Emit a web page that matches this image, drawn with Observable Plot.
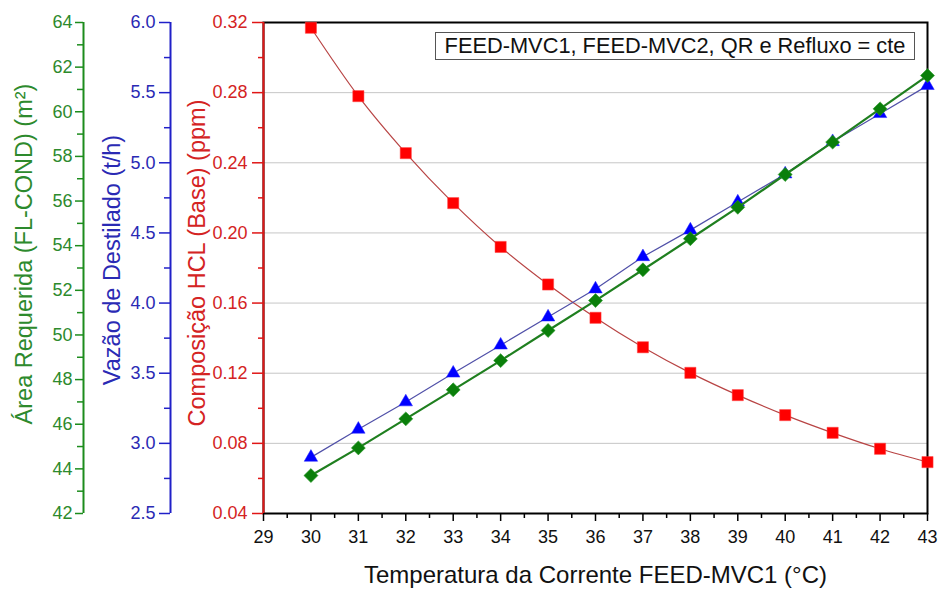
<!DOCTYPE html>
<html>
<head>
<meta charset="utf-8">
<script src="https://cdn.jsdelivr.net/npm/d3@7"></script>
<script src="https://cdn.jsdelivr.net/npm/@observablehq/plot@0.6"></script>
<style>
  body { margin: 0; background: #fff; }
  #chart { position: relative; width: 941px; height: 590px; font-family: "Liberation Sans", Arial, sans-serif; background: #fff; overflow: hidden; }
  #chart svg { position: absolute; left: 0; top: 0; overflow: visible; }
  #legend { position: absolute; left: 435px; top: 32px; width: 478px; height: 26px; border: 1px solid #555;
            font: 21.8px "Liberation Sans", Arial, sans-serif; color: #111; text-align: center; line-height: 26px; background: #fff; white-space: nowrap; }
</style>
</head>
<body>
<div id="chart"></div>
<script>
// ---- data ----
const temperatures   = [30, 31, 32, 33, 34, 35, 36, 37, 38, 39, 40, 41, 42, 43];
const hclComposition = [0.317, 0.278, 0.2455, 0.217, 0.192, 0.1706, 0.1516, 0.1348, 0.1202, 0.1075, 0.0961, 0.086, 0.0769, 0.0693];
const distillateFlow = [2.9, 3.1, 3.295, 3.5, 3.7, 3.9, 4.1, 4.33, 4.52, 4.72, 4.92, 5.15, 5.35, 5.55];
const requiredArea   = [43.7, 44.94, 46.24, 47.54, 48.85, 50.2, 51.54, 52.92, 54.31, 55.72, 57.19, 58.64, 60.13, 61.62];

const xTicks      = [29, 30, 31, 32, 33, 34, 35, 36, 37, 38, 39, 40, 41, 42, 43];
const xMinorTicks = [29.5, 30.5, 31.5, 32.5, 33.5, 34.5, 35.5, 36.5, 37.5, 38.5, 39.5, 40.5, 41.5, 42.5];
const redTicks    = [0.04, 0.08, 0.12, 0.16, 0.20, 0.24, 0.28, 0.32];
const redMinor    = [0.06, 0.10, 0.14, 0.18, 0.22, 0.26, 0.30];
const blueTicks   = [2.5, 3.0, 3.5, 4.0, 4.5, 5.0, 5.5, 6.0];
const blueMinor   = [2.75, 3.25, 3.75, 4.25, 4.75, 5.25, 5.75];
const greenTicks  = [42, 44, 46, 48, 50, 52, 54, 56, 58, 60, 62, 64];
const greenMinor  = [43, 45, 47, 49, 51, 53, 55, 57, 59, 61, 63];

const xDomain     = [29, 43];
const redDomain   = [0.04, 0.32];
const blueDomain  = [2.5, 6.0];
const greenDomain = [42, 64];

const xTitle     = "Temperatura da Corrente FEED-MVC1 (°C)";
const redTitle   = "Composição HCL (Base) (ppm)";
const blueTitle  = "Vazão de Destilado (t/h)";
const greenTitle = "Área Requerida (FL-COND) (m²)";
const legendText = "FEED-MVC1, FEED-MVC2, QR e Refluxo = cte";

// ---- styling ----
const W = 941, H = 590;
const margins = { marginLeft: 263, marginRight: 14, marginTop: 22, marginBottom: 77 };
const font = "'Liberation Sans', Arial, sans-serif";
const RED   = { text: "#d42323", axis: "#e01616", mark: "#ff0000", line: "#b84444" };
const BLUE  = { text: "#2a2ab4", axis: "#2020c8", mark: "#0000ff", line: "#5050a8" };
const GREEN = { text: "#2d8a2d", axis: "#1c8c1c", mark: "#0a7f0a", line: "#1f7f1f" };

const rows = (vals) => temperatures.map((t, i) => ({ t, v: vals[i] }));

const chart = document.getElementById("chart");

function layer(yDomain, marks, extraX = {}) {
  const svg = Plot.plot({
    width: W, height: H, ...margins,
    style: { background: "transparent", fontFamily: font, fontSize: "18px", overflow: "visible" },
    x: { domain: xDomain, label: null, ...extraX },
    y: { domain: yDomain, label: null },
    marks
  });
  chart.appendChild(svg);
  return svg;
}

const titleOpts = { text: d => d, frameAnchor: "left", textAnchor: "middle", lineAnchor: "middle", rotate: -90, fontSize: 23.5 };

// ---- red (main) layer ----
layer(redDomain, [
  Plot.gridY(redTicks, { stroke: "#c6c6c6", strokeOpacity: 1, strokeWidth: 1 }),
  Plot.frame({ stroke: "#000", strokeWidth: 2 }),
  Plot.ruleX([xDomain[0]], { stroke: RED.axis, strokeWidth: 2 }),
  Plot.axisX(xTicks, { tickSize: 8, tickPadding: 9, stroke: "#000", strokeWidth: 1.5, fill: "#111", fontSize: 18, label: null, tickFormat: d => String(d) }),
  Plot.axisX(xMinorTicks, { tickSize: 5, stroke: "#000", strokeWidth: 1.5, label: null, tickFormat: () => "" }),
  Plot.axisY(redTicks, { anchor: "left", tickSize: 11, tickPadding: 5, stroke: RED.axis, strokeWidth: 1.5, fill: RED.text, fontSize: 18, label: null, tickFormat: d3.format(".2f") }),
  Plot.axisY(redMinor, { anchor: "left", tickSize: 5, stroke: RED.axis, strokeWidth: 1.5, label: null, tickFormat: () => "" }),
  Plot.text([xTitle], { text: d => d, frameAnchor: "bottom", textAnchor: "middle", lineAnchor: "bottom", dy: 69, dx: 0, fontSize: 24, fill: "#111" }),
  Plot.text([redTitle], { ...titleOpts, dx: -66, dy: -5, fill: RED.text }),
  Plot.line(rows(hclComposition), { x: "t", y: "v", stroke: RED.line, strokeWidth: 1.2, curve: "monotone-x" }),
  Plot.dot(rows(hclComposition), { x: "t", y: "v", symbol: "square", r: 6.3, fill: RED.mark, stroke: "#f44", strokeWidth: 0.5 })
]);

// ---- blue layer ----
layer(blueDomain, [
  Plot.ruleX([xDomain[0]], { dx: -93, stroke: BLUE.axis, strokeWidth: 2 }),
  Plot.axisY(blueTicks, { anchor: "left", dx: -93, tickSize: 11, tickPadding: 4, stroke: BLUE.axis, strokeWidth: 1.5, fill: BLUE.text, fontSize: 18, label: null, tickFormat: d3.format(".1f") }),
  Plot.axisY(blueMinor, { anchor: "left", dx: -93, tickSize: 6, stroke: BLUE.axis, strokeWidth: 1.5, label: null, tickFormat: () => "" }),
  Plot.text([blueTitle], { ...titleOpts, dx: -151, dy: -8, fill: BLUE.text }),
  Plot.line(rows(distillateFlow), { x: "t", y: "v", stroke: BLUE.line, strokeWidth: 1.2 }),
  Plot.dot(rows(distillateFlow), { x: "t", y: "v", symbol: "triangle", r: 5, fill: BLUE.mark, stroke: "#22f", strokeWidth: 0.5 })
], { axis: null });

// ---- green layer ----
layer(greenDomain, [
  Plot.ruleX([xDomain[0]], { dx: -180, stroke: GREEN.axis, strokeWidth: 2 }),
  Plot.axisY(greenTicks, { anchor: "left", dx: -180, tickSize: 8, tickPadding: 3, stroke: GREEN.axis, strokeWidth: 1.5, fill: GREEN.text, fontSize: 18, label: null, tickFormat: d => String(d) }),
  Plot.axisY(greenMinor, { anchor: "left", dx: -180, tickSize: 6, stroke: GREEN.axis, strokeWidth: 1.5, label: null, tickFormat: () => "" }),
  Plot.text([greenTitle], { ...titleOpts, dx: -239, dy: -14, fill: GREEN.text }),
  Plot.line(rows(requiredArea), { x: "t", y: "v", stroke: GREEN.line, strokeWidth: 2.2 }),
  Plot.dot(rows(requiredArea), { x: "t", y: "v", symbol: "diamond2", r: 6.3, fill: GREEN.mark, stroke: "#2a9a2a", strokeWidth: 0.6 })
], { axis: null });

// ---- legend box ----
const legend = document.createElement("div");
legend.id = "legend";
legend.textContent = legendText;
chart.appendChild(legend);
</script>
</body>
</html>
